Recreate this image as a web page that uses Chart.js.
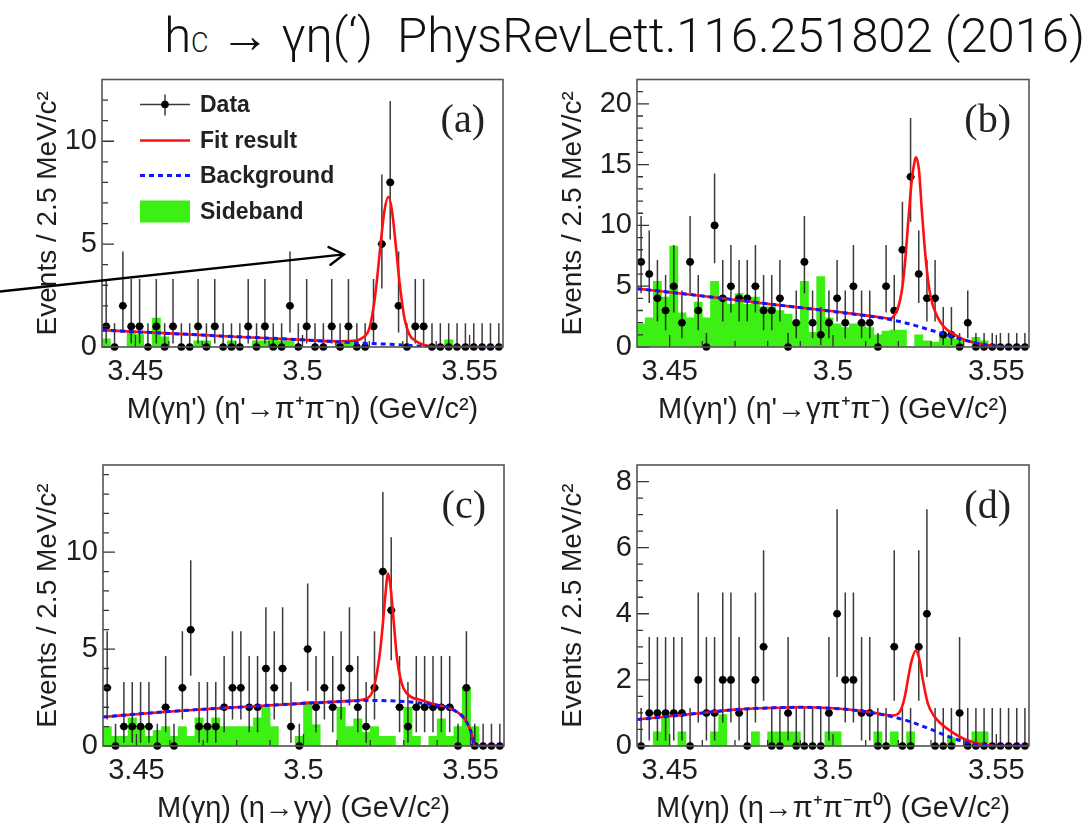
<!DOCTYPE html>
<html>
<head>
<meta charset="utf-8">
<title>hc to gamma eta(') fits</title>
<script src="https://cdn.jsdelivr.net/npm/chart.js@4.4.1/dist/chart.umd.min.js"></script>
<style>
  html, body { margin: 0; padding: 0; background: #fff; }
  body { position: relative; width: 1091px; height: 831px; overflow: hidden; }
  canvas { position: absolute; }
  #title {
    position: absolute; right: 6px; top: 11px;
    font-family: Roboto, "Liberation Sans", sans-serif; font-weight: 300;
    font-size: 49px; line-height: 49px; color: #111; white-space: nowrap;
  }
  #title .sub { font-size: 0.55em; }
</style>
</head>
<body>
<div id="title">h<span class="sub">C</span> → γη(‘)&nbsp; PhysRevLett.116.251802 (2016)</div>
<canvas id="panelA" width="540" height="380" style="left:0px;top:60px"></canvas>
<canvas id="panelB" width="551" height="380" style="left:540px;top:60px"></canvas>
<canvas id="panelC" width="540" height="391" style="left:0px;top:440px"></canvas>
<canvas id="panelD" width="551" height="391" style="left:540px;top:440px"></canvas>
<script>
// 2.5 MeV bins between 3.44 and 3.56 GeV
const binCenters = [
  3.44125, 3.44375, 3.44625, 3.44875, 3.45125, 3.45375, 3.45625, 3.45875, 3.46125, 3.46375,
  3.46625, 3.46875, 3.47125, 3.47375, 3.47625, 3.47875, 3.48125, 3.48375, 3.48625, 3.48875,
  3.49125, 3.49375, 3.49625, 3.49875, 3.50125, 3.50375, 3.50625, 3.50875, 3.51125, 3.51375,
  3.51625, 3.51875, 3.52125, 3.52375, 3.52625, 3.52875, 3.53125, 3.53375, 3.53625, 3.53875,
  3.54125, 3.54375, 3.54625, 3.54875, 3.55125, 3.55375, 3.55625, 3.55875
];
const halfBin = 0.00125;
const xTickValues = [3.45, 3.5, 3.55];
const xTickLabels = ['3.45', '3.5', '3.55'];

// asymmetric Poisson error bars as drawn, indexed by number of events
const errDown = [0, 0.83, 1.29, 1.63, 1.91, 2.16, 2.38, 2.58, 2.77, 2.94, 3.11, 3.26, 3.42, 3.57, 3.70];
const errUp   = [1.15, 2.30, 2.64, 2.92, 3.16, 3.38, 3.58, 3.77, 3.95, 4.11, 4.27, 4.42, 4.56, 4.70, 4.83];

// (a) eta' -> pi+ pi- eta
const countsA = [1,0,2,1,1,0,1,0,1,0, 0,1,0,1,0,0,0,1,0,1, 0,0,2,0,1,0,0,1,0,1, 0,0,1,5,8,2,0,1,1,0, 0,0,0,0,0,0,0,0];
const sidebandA = [0.4,0,0,0.8,0.6,0,1.4,0.5,0,0, 0,0.3,0.3,0,0,0.3,0,0,0.3,0.3, 0.4,0.3,0.3,0,0,0,0,0,0.2,0.3, 0,0,0,0,0,0,0,0,0,0, 0,0.35,0,0,0,0,0,0];
const fitAx = [3.44, 3.46, 3.48, 3.50, 3.51, 3.515, 3.518, 3.52, 3.5215, 3.5225, 3.5235, 3.5245, 3.5257, 3.5268, 3.528, 3.529, 3.5305, 3.532, 3.534, 3.536, 3.538, 3.54, 3.545, 3.56];
const fitAy = [0.82, 0.66, 0.5, 0.35, 0.28, 0.3, 0.45, 0.9, 2.2, 3.6, 5.2, 6.6, 7.3, 6.6, 4.8, 3.2, 1.4, 0.6, 0.28, 0.12, 0.04, 0.01, 0, 0];
const bgAx = [3.44, 3.45, 3.46, 3.47, 3.48, 3.49, 3.50, 3.51, 3.52, 3.525, 3.53, 3.534, 3.538, 3.54, 3.56];
const bgAy = [0.82, 0.74, 0.66, 0.58, 0.5, 0.43, 0.35, 0.26, 0.17, 0.14, 0.1, 0.05, 0.01, 0, 0];
const yTicksA = [0, 5, 10];
const yLabelsA = ['0', '5', '10'];

// (b) eta' -> gamma pi+ pi-
const countsB = [7,6,4,3,5,2,7,3,0,10, 4,5,4,4,5,3,3,4,0,2, 7,2,1,2,4,2,5,2,2,0, 5,3,8,14,6,4,4,1,1,0, 2,0,0,0,0,0,0,0];
const sidebandB = [1.9,2.4,5.4,4.1,8.3,2.8,2.4,3.7,2.4,5.4, 4.1,3.5,4.4,3.5,4.1,3.3,3.3,3.0,2.7,1.9, 5.4,1.2,5.8,2.4,1.9,1.6,1.9,2.0,1.6,1.0, 1.3,1.4,1.4,0,1.0,0.5,0.4,1.0,0.7,0.6, 0,0.8,0.5,0,0,0,0,0];
const fitBx = [3.44, 3.46, 3.48, 3.50, 3.51, 3.515, 3.5175, 3.519, 3.520, 3.521, 3.522, 3.523, 3.524, 3.525, 3.5254, 3.5263, 3.5272, 3.528, 3.529, 3.530, 3.5315, 3.533, 3.535, 3.537, 3.54, 3.545, 3.55, 3.555, 3.56];
const fitBy = [4.8, 4.2, 3.55, 2.94, 2.6, 2.42, 2.34, 2.7, 3.3, 4.5, 6.8, 10.2, 13.4, 15.3, 15.6, 14.6, 11.2, 8.4, 5.7, 4.0, 2.75, 2.0, 1.4, 1.05, 0.62, 0.27, 0.06, 0, 0];
const bgBx = [3.44, 3.46, 3.48, 3.50, 3.51, 3.515, 3.52, 3.525, 3.53, 3.535, 3.54, 3.545, 3.55, 3.555, 3.56];
const bgBy = [4.8, 4.2, 3.55, 2.92, 2.58, 2.38, 2.12, 1.78, 1.38, 0.98, 0.58, 0.26, 0.06, 0, 0];
const yTicksB = [0, 5, 10, 15, 20];
const yLabelsB = ['0', '5', '10', '15', '20'];

// (c) eta -> gamma gamma
const countsC = [3,0,1,1,1,1,0,2,0,3, 6,1,1,1,2,3,3,2,2,4, 3,4,1,0,5,2,3,2,3,4, 2,1,3,9,7,2,1,2,2,2, 2,2,0,3,0,0,0,0];
const sidebandC = [1.0,0.5,0.5,1.45,1.0,0.5,0.8,1.0,0.5,1.0, 0.5,1.45,1.0,1.45,1.0,1.0,1.0,1.0,1.45,2.0, 1.0,0,0,0.5,2.3,1.1,0,0,2.0,1.0, 1.4,0.7,1.0,0.5,0.5,0,2.0,0.5,0,0.5, 1.4,0.5,1.0,3.0,1.0,0,0,0];
const fitCx = [3.44, 3.46, 3.48, 3.50, 3.51, 3.515, 3.518, 3.52, 3.521, 3.522, 3.523, 3.524, 3.5245, 3.5253, 3.526, 3.527, 3.528, 3.529, 3.530, 3.532, 3.535, 3.54, 3.543, 3.546, 3.548, 3.5495, 3.5505, 3.551, 3.5515, 3.56];
const fitCy = [1.5, 1.78, 2.0, 2.2, 2.29, 2.34, 2.4, 2.6, 3.0, 3.8, 5.0, 6.8, 7.8, 8.9, 8.3, 6.4, 4.5, 3.5, 2.95, 2.55, 2.38, 2.12, 2.0, 1.75, 1.45, 1.0, 0.5, 0.1, 0, 0];
const bgCx = [3.44, 3.45, 3.46, 3.47, 3.48, 3.49, 3.50, 3.51, 3.52, 3.53, 3.54, 3.543, 3.546, 3.548, 3.5495, 3.5505, 3.551, 3.5515, 3.56];
const bgCy = [1.5, 1.65, 1.78, 1.9, 2.0, 2.1, 2.2, 2.28, 2.35, 2.3, 2.1, 2.0, 1.75, 1.45, 1.0, 0.5, 0.1, 0, 0];
const yTicksC = [0, 5, 10];
const yLabelsC = ['0', '5', '10'];

// (d) eta -> pi+ pi- pi0
const countsD = [0,1,1,1,1,1,0,2,1,1, 2,2,1,0,2,3,0,0,1,0, 0,0,0,1,4,2,2,1,1,0, 0,3,0,0,3,4,0,0,0,1, 0,0,0,0,0,0,0,0];
const sidebandD = [0,0,0.43,0.85,0,0.43,0,0,0,0.43, 0.95,0,0,0,0.43,0,0.43,0.43,0.43,0.43, 0,0,0,0.43,0.43,0,0,0,0,0.43, 0,0.43,0,0.43,0,0,0,0,0.25,0, 0,0.43,0.43,0,0,0,0,0];
const fitDx = [3.44, 3.45, 3.46, 3.47, 3.48, 3.49, 3.50, 3.51, 3.515, 3.518, 3.52, 3.521, 3.522, 3.523, 3.524, 3.5253, 3.5265, 3.5275, 3.529, 3.531, 3.533, 3.536, 3.54, 3.545, 3.55, 3.56];
const fitDy = [0.8, 0.9, 1.0, 1.1, 1.15, 1.17, 1.14, 1.04, 0.96, 0.92, 0.98, 1.15, 1.5, 2.05, 2.55, 2.88, 2.6, 2.0, 1.3, 0.9, 0.68, 0.45, 0.22, 0.06, 0, 0];
const bgDx = [3.44, 3.45, 3.46, 3.47, 3.48, 3.49, 3.50, 3.51, 3.515, 3.52, 3.525, 3.53, 3.535, 3.54, 3.545, 3.55, 3.56];
const bgDy = [0.8, 0.9, 1.0, 1.1, 1.15, 1.17, 1.14, 1.04, 0.95, 0.84, 0.69, 0.5, 0.3, 0.13, 0.03, 0, 0];
const yTicksD = [0, 2, 4, 6, 8];
const yLabelsD = ['0', '2', '4', '6', '8'];

// arrow annotation in panel (a), in data coordinates
const arrowTail = { x: 3.4095, y: 2.7 };
const arrowTip = { x: 3.5124, y: 4.5 };

const legendItems = ['Data', 'Fit result', 'Background', 'Sideband'];
const yTitle = 'Events / 2.5 MeV/c²';

const RED = '#ff1010', BLUE = '#1414ff', GREEN = '#3cf014', INK = '#1e1e1e';
const SANS = '"Liberation Sans", Arial, sans-serif';

function toPoints(xs, ys) {
  return xs.map((x, i) => ({ x: x, y: ys[i] }));
}

function makePanel(p) {
  const [cl, ct, cw, ch] = p.canvas;
  const [fl, ft, fr, fb] = p.frame;
  const plotLeft = fl - cl, plotTop = ft - ct, plotRight = fr - cl, plotBottom = fb - ct;
  const dataPts = toPoints(binCenters, p.counts);

  const errorBars = {
    id: 'errorBars',
    beforeDatasetDraw(chart, args) {
      if (args.index !== 2) return;
      const { ctx, scales: { x, y } } = chart;
      ctx.save();
      ctx.strokeStyle = 'rgba(25,25,25,0.85)';
      ctx.lineWidth = 1.5;
      ctx.beginPath();
      dataPts.forEach(pt => {
        const n = pt.y;
        const px = x.getPixelForValue(pt.x);
        const py = y.getPixelForValue(n);
        ctx.moveTo(px, y.getPixelForValue(n + errUp[n]));
        ctx.lineTo(px, y.getPixelForValue(n - errDown[n]));
        ctx.moveTo(x.getPixelForValue(pt.x - halfBin), py);
        ctx.lineTo(x.getPixelForValue(pt.x + halfBin), py);
      });
      ctx.stroke();
      ctx.restore();
    }
  };

  const frameTicks = {
    id: 'frameTicks',
    afterDatasetsDraw(chart) {
      const { ctx, chartArea: a, scales: { x, y } } = chart;
      ctx.save();
      ctx.strokeStyle = '#333';
      ctx.lineWidth = 1.3;
      ctx.beginPath();
      p.yTicks.forEach(v => {
        const py = y.getPixelForValue(v);
        ctx.moveTo(a.left, py); ctx.lineTo(a.left + 12, py);
      });
      for (let i = 1; i * p.yMinor < p.yMax; i++) {
        const py = y.getPixelForValue(i * p.yMinor);
        ctx.moveTo(a.left, py); ctx.lineTo(a.left + 6, py);
      }
      xTickValues.forEach(v => {
        const px = x.getPixelForValue(v);
        ctx.moveTo(px, a.bottom); ctx.lineTo(px, a.bottom - 12);
      });
      for (let i = 1; i < 12; i++) {
        const px = x.getPixelForValue(3.44 + i * 0.01);
        ctx.moveTo(px, a.bottom); ctx.lineTo(px, a.bottom - 6);
      }
      ctx.stroke();
      ctx.lineWidth = 1.6;
      ctx.strokeStyle = '#555';
      ctx.strokeRect(a.left, a.top, a.right - a.left, a.bottom - a.top);
      ctx.restore();
    }
  };

  const decorations = {
    id: 'decorations',
    afterDraw(chart) {
      const { ctx, chartArea: a, scales: { x, y } } = chart;
      ctx.save();
      ctx.fillStyle = '#222';
      ctx.font = '40px "Liberation Serif", "Times New Roman", serif';
      ctx.textAlign = 'right';
      ctx.textBaseline = 'middle';
      ctx.fillText(p.label, a.right - 18, a.top + 42);

      if (p.legend) {
        const sx0 = a.left + 38, sx1 = a.left + 88, tx = a.left + 98;
        const rows = [a.top + 25, a.top + 61, a.top + 96, a.top + 132];
        // Data
        ctx.strokeStyle = 'rgba(25,25,25,0.85)';
        ctx.lineWidth = 1.5;
        ctx.beginPath();
        ctx.moveTo(sx0, rows[0]); ctx.lineTo(sx1, rows[0]);
        ctx.moveTo((sx0 + sx1) / 2, rows[0] - 10); ctx.lineTo((sx0 + sx1) / 2, rows[0] + 11);
        ctx.stroke();
        ctx.fillStyle = '#000';
        ctx.beginPath();
        ctx.arc((sx0 + sx1) / 2, rows[0], 3.8, 0, Math.PI * 2);
        ctx.fill();
        // Fit result
        ctx.strokeStyle = RED;
        ctx.lineWidth = 2.6;
        ctx.beginPath();
        ctx.moveTo(sx0, rows[1]); ctx.lineTo(sx1, rows[1]);
        ctx.stroke();
        // Background
        ctx.strokeStyle = BLUE;
        ctx.lineWidth = 3;
        ctx.setLineDash([5, 4]);
        ctx.beginPath();
        ctx.moveTo(sx0, rows[2]); ctx.lineTo(sx1, rows[2]);
        ctx.stroke();
        ctx.setLineDash([]);
        // Sideband
        ctx.fillStyle = GREEN;
        ctx.fillRect(sx0, rows[3] - 11, sx1 - sx0, 22);

        ctx.fillStyle = '#222';
        ctx.font = 'bold 23px ' + SANS;
        ctx.textAlign = 'left';
        legendItems.forEach((t, i) => ctx.fillText(t, tx, rows[i] + 1));
      }

      if (p.arrow) {
        const x0 = x.getPixelForValue(arrowTail.x), y0 = y.getPixelForValue(arrowTail.y);
        const x1 = x.getPixelForValue(arrowTip.x), y1 = y.getPixelForValue(arrowTip.y);
        const ang = Math.atan2(y1 - y0, x1 - x0);
        ctx.strokeStyle = '#000';
        ctx.lineWidth = 2.4;
        ctx.lineCap = 'round';
        ctx.beginPath();
        ctx.moveTo(x0, y0); ctx.lineTo(x1, y1);
        ctx.moveTo(x1 - 17 * Math.cos(ang - 0.55), y1 - 17 * Math.sin(ang - 0.55));
        ctx.lineTo(x1, y1);
        ctx.lineTo(x1 - 17 * Math.cos(ang + 0.55), y1 - 17 * Math.sin(ang + 0.55));
        ctx.stroke();
      }
      ctx.restore();
    }
  };

  new Chart(document.getElementById(p.id), {
    type: 'scatter',
    data: {
      datasets: [
        { type: 'line', data: toPoints(p.bgX, p.bgY), borderColor: BLUE, borderWidth: 3,
          borderDash: [5, 4], pointRadius: 0, cubicInterpolationMode: 'monotone', order: 0 },
        { type: 'line', data: toPoints(p.fitX, p.fitY), borderColor: RED, borderWidth: 2.6,
          pointRadius: 0, cubicInterpolationMode: 'monotone', order: 1 },
        { type: 'scatter', data: dataPts, pointRadius: 3.8, backgroundColor: '#000',
          borderColor: '#000', borderWidth: 0, clip: false, order: 2 },
        { type: 'bar', data: toPoints(binCenters, p.sideband), backgroundColor: GREEN,
          borderWidth: 0, barPercentage: 1, categoryPercentage: 1, order: 3 }
      ]
    },
    options: {
      responsive: false,
      animation: false,
      events: [],
      layout: { padding: { left: 0, top: plotTop, right: cw - plotRight, bottom: 0 } },
      plugins: { legend: { display: false }, tooltip: { enabled: false } },
      scales: {
        x: {
          type: 'linear', min: 3.44, max: 3.56, offset: false,
          grid: { display: false, drawTicks: false, offset: false }, border: { display: false },
          afterBuildTicks: s => { s.ticks = xTickValues.map(v => ({ value: v })); },
          ticks: { autoSkip: false, maxRotation: 0, padding: 10, color: INK,
                   font: { family: SANS, size: 29, lineHeight: 1 },
                   callback: (v, i) => xTickLabels[i] },
          title: { display: true, text: p.xTitle, color: INK,
                   font: { family: SANS, size: 29, lineHeight: 1 },
                   padding: { top: 0, bottom: ch - (fb + 63 - ct) - 14 } },
          afterFit: s => { s.height = ch - plotBottom; }
        },
        y: {
          min: 0, max: p.yMax,
          grid: { display: false, drawTicks: false }, border: { display: false },
          afterBuildTicks: s => { s.ticks = p.yTicks.map(v => ({ value: v })); },
          ticks: { autoSkip: false, padding: 5, color: INK,
                   font: { family: SANS, size: 29, lineHeight: 1 },
                   callback: (v, i) => p.yTickLabels[i] },
          title: { display: true, text: yTitle, color: INK,
                   font: { family: SANS, size: 28, lineHeight: 1 },
                   padding: { top: p.yTitleX - cl - 14, bottom: 0 } },
          afterFit: s => { s.width = plotLeft; }
        }
      }
    },
    plugins: [errorBars, frameTicks, decorations]
  });
}

makePanel({ id: 'panelA', canvas: [0, 60, 540, 380], frame: [102, 67, 503, 347], yTitleX: 48,
  counts: countsA, sideband: sidebandA, fitX: fitAx, fitY: fitAy, bgX: bgAx, bgY: bgAy,
  yMax: 13, yMinor: 1, yTicks: yTicksA, yTickLabels: yLabelsA, label: '(a)',
  xTitle: "M(γη') (η'→π⁺π⁻η) (GeV/c²)", legend: true, arrow: true });
makePanel({ id: 'panelB', canvas: [540, 60, 551, 380], frame: [637, 68, 1029, 347], yTitleX: 573,
  counts: countsB, sideband: sidebandB, fitX: fitBx, fitY: fitBy, bgX: bgBx, bgY: bgBy,
  yMax: 22, yMinor: 1, yTicks: yTicksB, yTickLabels: yLabelsB, label: '(b)',
  xTitle: "M(γη') (η'→γπ⁺π⁻) (GeV/c²)" });
makePanel({ id: 'panelC', canvas: [0, 440, 540, 391], frame: [103, 465, 504, 746], yTitleX: 48,
  counts: countsC, sideband: sidebandC, fitX: fitCx, fitY: fitCy, bgX: bgCx, bgY: bgCy,
  yMax: 14.5, yMinor: 1, yTicks: yTicksC, yTickLabels: yLabelsC, label: '(c)',
  xTitle: 'M(γη) (η→γγ) (GeV/c²)' });
makePanel({ id: 'panelD', canvas: [540, 440, 551, 391], frame: [637, 465, 1029, 746], yTitleX: 573,
  counts: countsD, sideband: sidebandD, fitX: fitDx, fitY: fitDy, bgX: bgDx, bgY: bgDy,
  yMax: 8.5, yMinor: 0.5, yTicks: yTicksD, yTickLabels: yLabelsD, label: '(d)',
  xTitle: 'M(γη) (η→π⁺π⁻π⁰) (GeV/c²)' });
</script>
</body>
</html>
